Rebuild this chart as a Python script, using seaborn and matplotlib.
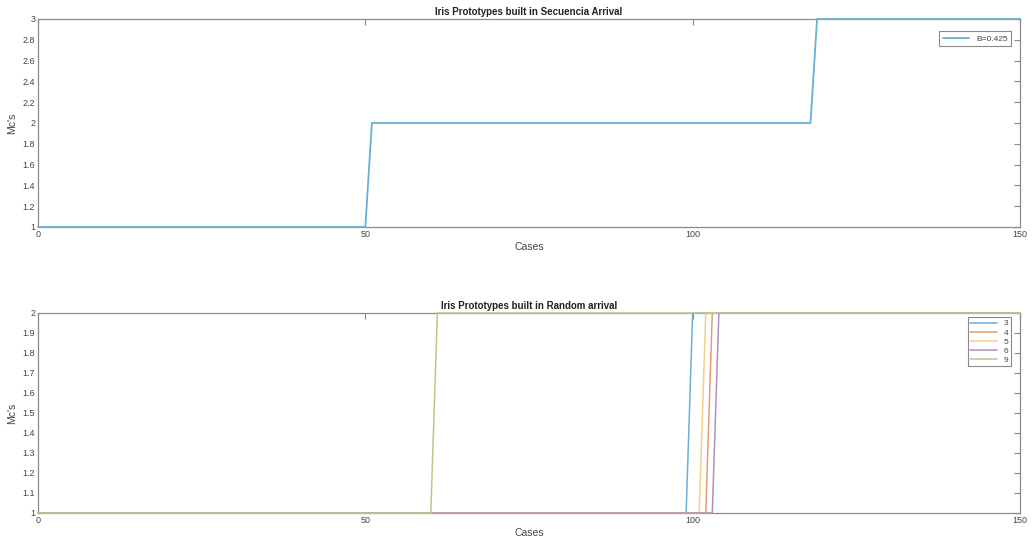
import numpy as np
import pandas as pd
import matplotlib
matplotlib.use("Agg")
import matplotlib.pyplot as plt
from matplotlib.ticker import FuncFormatter
import seaborn as sns

# ---- data ----
cases = np.arange(0, 151)

# sequential arrival: levels and run lengths
seq_levels = [1, 2, 3]
seq_runs = [51, 68, 32]
seq_label = "B=0.425"

# random arrival: each series jumps 1 -> 2
rand_labels = ["3", "4", "5", "6", "9"]
rand_levels = [1, 2]
rand_runs = {
    "3": [100, 51],
    "4": [103, 48],
    "5": [102, 49],
    "6": [104, 47],
    "9": [61, 90],
}

top_title = "Iris Prototypes built in Secuencia Arrival"
bot_title = "Iris Prototypes built in Random arrival"
xlabel = "Cases"
ylabel = "Mc's"

colors = ["#6aafd6", "#e79a78", "#f2d086", "#b08fbb", "#b3cd86"]
top_color = "#6aafd6"

# ---- build tables ----
df_top = pd.DataFrame({"Cases": cases,
                       "Mc": np.repeat(seq_levels, seq_runs),
                       "series": seq_label})
frames = []
for lab in rand_labels:
    frames.append(pd.DataFrame({"Cases": cases,
                                "Mc": np.repeat(rand_levels, rand_runs[lab]),
                                "series": lab}))
df_bot = pd.concat(frames, ignore_index=True)

sns.set_theme(style="white")
plt.rcParams["font.family"] = ["Liberation Sans", "DejaVu Sans"]

fig = plt.figure(figsize=(10.33, 5.42), dpi=100)
ax1 = fig.add_axes([38 / 1033, 1 - 227 / 542, 982 / 1033, 208 / 542])
ax2 = fig.add_axes([38 / 1033, 1 - 513 / 542, 982 / 1033, 200 / 542])

axcol = "#8a8a8a"
txtcol = "#444444"

sns.lineplot(data=df_top, x="Cases", y="Mc", hue="series",
             palette=[top_color], ax=ax1, linewidth=1.3)
sns.lineplot(data=df_bot, x="Cases", y="Mc", hue="series",
             hue_order=rand_labels, palette=colors, ax=ax2, linewidth=1.1)
for ax in (ax1, ax2):
    for ln in ax.lines:
        ln.set_clip_on(False)

fmt = FuncFormatter(lambda v, p: ("%g" % round(v, 2)))
for ax, ylim, ystep, title in [(ax1, (1, 3), 0.2, top_title),
                               (ax2, (1, 2), 0.1, bot_title)]:
    ax.set_xlim(0, 150)
    ax.set_ylim(*ylim)
    ax.set_xticks([0, 50, 100, 150])
    ax.set_yticks(np.round(np.arange(ylim[0], ylim[1] + 1e-9, ystep), 2))
    ax.yaxis.set_major_formatter(fmt)
    ax.tick_params(direction="in", length=4, width=0.8, colors=axcol,
                   labelcolor=txtcol, labelsize=6.5, top=True, right=True,
                   pad=2)
    for s in ax.spines.values():
        s.set_color(axcol)
        s.set_linewidth(0.9)
        s.set_zorder(0.5)
    ax.set_title(title, fontsize=7, fontweight="bold", color="#222222", pad=3)
    ax.set_xlabel(xlabel, fontsize=7.5, color=txtcol, labelpad=2)
    ax.set_ylabel(ylabel, fontsize=7.5, color=txtcol, labelpad=4)

leg1 = ax1.legend(loc="upper right", fontsize=6, frameon=True, fancybox=False,
                  framealpha=1, edgecolor=axcol, handlelength=3.2,
                  borderpad=0.4, bbox_to_anchor=(0.995, 0.96))
leg1.get_frame().set_linewidth(0.8)
leg2 = ax2.legend(loc="upper right", fontsize=6, frameon=True, fancybox=False,
                  framealpha=1, edgecolor=axcol, handlelength=3.2,
                  borderpad=0.3, labelspacing=0.15,
                  bbox_to_anchor=(0.995, 1.0))
leg2.get_frame().set_linewidth(0.8)
for leg in (leg1, leg2):
    for t in leg.get_texts():
        t.set_color(txtcol)

fig.savefig("out.png", dpi=100)
